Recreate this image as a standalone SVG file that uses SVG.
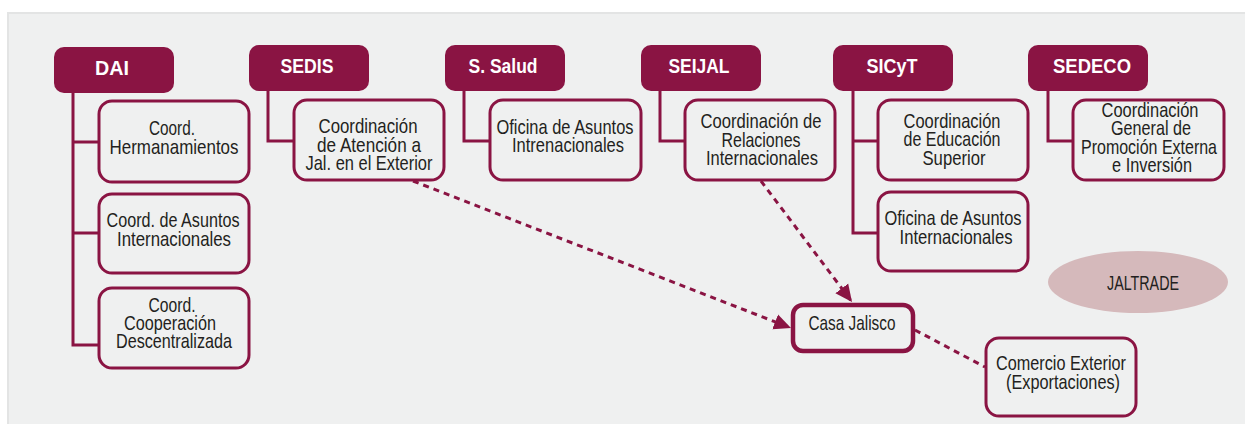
<svg xmlns="http://www.w3.org/2000/svg" width="1245" height="424" viewBox="0 0 1245 424">
<style>
.hdr{fill:#8A1443}
.hdrt{fill:#FFFFFF;font-family:"Liberation Sans",Arial,sans-serif;font-weight:bold;font-size:20px;text-anchor:middle}
.box{fill:#EFF0F0;stroke:#8A1443;stroke-width:3}
.t{fill:#231F20;font-family:"Liberation Sans Narrow","Liberation Sans",Arial,sans-serif;font-size:21px;text-anchor:middle}
.tree{fill:none;stroke:#8A1443;stroke-width:3}
.dash{fill:none;stroke:#8A1443;stroke-width:3;stroke-dasharray:6 5}
</style>
<defs>
<marker id="arr" markerUnits="userSpaceOnUse" markerWidth="18" markerHeight="18" viewBox="0 0 18 18" refX="17" refY="9" orient="auto">
<path d="M0,1 L17,9 L0,17 Z" fill="#8A1443"/>
</marker>
</defs>
<rect x="0" y="0" width="1245" height="424" fill="#FFFFFF"/>
<rect x="8" y="13" width="1250" height="420" fill="#EFF0F0" stroke="#E3E4E4" stroke-width="2"/>

<g id="connectors">
<path class="tree" d="M73,92 V345 H99 M73,142 H99 M73,233 H99"/>
<path class="tree" d="M268,90 V141 H294"/>
<path class="tree" d="M464,90 V141 H490"/>
<path class="tree" d="M660,90 V141 H685"/>
<path class="tree" d="M853,90 V233 H877 M853,141 H878"/>
<path class="tree" d="M1048,90 V141 H1073"/>
<line class="dash" x1="413" y1="181" x2="791" y2="328" marker-end="url(#arr)"/>
<line class="dash" x1="761" y1="181" x2="852" y2="302" marker-end="url(#arr)"/>
<line class="dash" x1="915" y1="330" x2="985" y2="367"/>
</g>

<g id="dai">
<rect class="hdr" x="54" y="47" width="120" height="46" rx="10"/>
<text class="hdrt" x="112" y="75" textLength="34" lengthAdjust="spacingAndGlyphs">DAI</text>
</g>
<g id="dai-herm">
<rect class="box" x="99" y="101" width="150" height="81" rx="13"/>
<text class="t" x="172" y="135" textLength="46" lengthAdjust="spacingAndGlyphs">Coord.</text>
<text class="t" x="174" y="154" textLength="129" lengthAdjust="spacingAndGlyphs">Hermanamientos</text>
</g>
<g id="dai-asuntos">
<rect class="box" x="99" y="194" width="150" height="79" rx="13"/>
<text class="t" x="173" y="227" textLength="133" lengthAdjust="spacingAndGlyphs">Coord. de Asuntos</text>
<text class="t" x="174" y="246" textLength="114" lengthAdjust="spacingAndGlyphs">Internacionales</text>
</g>
<g id="dai-coop">
<rect class="box" x="99" y="288" width="150" height="80" rx="13"/>
<text class="t" x="172" y="312" textLength="47" lengthAdjust="spacingAndGlyphs">Coord.</text>
<text class="t" x="170" y="330" textLength="92" lengthAdjust="spacingAndGlyphs">Cooperación</text>
<text class="t" x="174" y="348" textLength="116" lengthAdjust="spacingAndGlyphs">Descentralizada</text>
</g>

<g id="sedis">
<rect class="hdr" x="249" y="45" width="120" height="46" rx="10"/>
<text class="hdrt" x="307" y="73" textLength="53" lengthAdjust="spacingAndGlyphs">SEDIS</text>
</g>
<g id="sedis-coord">
<rect class="box" x="294" y="100" width="150" height="80" rx="13"/>
<text class="t" x="368" y="133" textLength="99" lengthAdjust="spacingAndGlyphs">Coordinación</text>
<text class="t" x="369" y="152" textLength="104" lengthAdjust="spacingAndGlyphs">de Atención a</text>
<text class="t" x="369" y="170" textLength="127" lengthAdjust="spacingAndGlyphs">Jal. en el Exterior</text>
</g>

<g id="ssalud">
<rect class="hdr" x="445" y="45" width="120" height="46" rx="10"/>
<text class="hdrt" x="503" y="73" textLength="69" lengthAdjust="spacingAndGlyphs">S. Salud</text>
</g>
<g id="ssalud-ofi">
<rect class="box" x="490" y="100" width="151" height="80" rx="13"/>
<text class="t" x="565" y="134" textLength="137" lengthAdjust="spacingAndGlyphs">Oficina de Asuntos</text>
<text class="t" x="568" y="152" textLength="112" lengthAdjust="spacingAndGlyphs">Intrenacionales</text>
</g>

<g id="seijal">
<rect class="hdr" x="641" y="45" width="120" height="46" rx="10"/>
<text class="hdrt" x="699" y="73" textLength="61" lengthAdjust="spacingAndGlyphs">SEIJAL</text>
</g>
<g id="seijal-coord">
<rect class="box" x="685" y="100" width="150" height="80" rx="13"/>
<text class="t" x="761" y="128" textLength="121" lengthAdjust="spacingAndGlyphs">Coordinación de</text>
<text class="t" x="761" y="147" textLength="79" lengthAdjust="spacingAndGlyphs">Relaciones</text>
<text class="t" x="762" y="165" textLength="112" lengthAdjust="spacingAndGlyphs">Internacionales</text>
</g>

<g id="sicyt">
<rect class="hdr" x="833" y="45" width="120" height="46" rx="10"/>
<text class="hdrt" x="892" y="73" textLength="51" lengthAdjust="spacingAndGlyphs">SICyT</text>
</g>
<g id="sicyt-edu">
<rect class="box" x="878" y="100" width="150" height="80" rx="13"/>
<text class="t" x="952" y="128" textLength="97" lengthAdjust="spacingAndGlyphs">Coordinación</text>
<text class="t" x="952" y="146" textLength="97" lengthAdjust="spacingAndGlyphs">de Educación</text>
<text class="t" x="954" y="165" textLength="63" lengthAdjust="spacingAndGlyphs">Superior</text>
</g>
<g id="sicyt-ofi">
<rect class="box" x="878" y="192" width="150" height="79" rx="13"/>
<text class="t" x="953" y="225" textLength="137" lengthAdjust="spacingAndGlyphs">Oficina de Asuntos</text>
<text class="t" x="956" y="244" textLength="113" lengthAdjust="spacingAndGlyphs">Internacionales</text>
</g>

<g id="sedeco">
<rect class="hdr" x="1028" y="45" width="120" height="46" rx="10"/>
<text class="hdrt" x="1092" y="73" textLength="78" lengthAdjust="spacingAndGlyphs">SEDECO</text>
</g>
<g id="sedeco-coord">
<rect class="box" x="1073" y="100" width="151" height="80" rx="13"/>
<text class="t" x="1150" y="117" textLength="97" lengthAdjust="spacingAndGlyphs">Coordinación</text>
<text class="t" x="1151" y="135" textLength="80" lengthAdjust="spacingAndGlyphs">General de</text>
<text class="t" x="1149" y="154" textLength="136" lengthAdjust="spacingAndGlyphs">Promoción Externa</text>
<text class="t" x="1152" y="172" textLength="80" lengthAdjust="spacingAndGlyphs">e Inversión</text>
</g>

<g id="casa-jalisco">
<rect x="793" y="305" width="120" height="46" rx="10" fill="#EFF0F0" stroke="#8A1443" stroke-width="4.5"/>
<text class="t" x="852" y="330" textLength="87" lengthAdjust="spacingAndGlyphs">Casa Jalisco</text>
</g>

<g id="comercio">
<rect class="box" x="986" y="338" width="150" height="78" rx="13"/>
<text class="t" x="1061" y="370" textLength="130" lengthAdjust="spacingAndGlyphs">Comercio Exterior</text>
<text class="t" x="1063" y="389" textLength="114" lengthAdjust="spacingAndGlyphs">(Exportaciones)</text>
</g>

<g id="jaltrade">
<ellipse cx="1138" cy="282" rx="90" ry="31" fill="#D5B9BB"/>
<text class="t" x="1143" y="290" textLength="72" lengthAdjust="spacingAndGlyphs">JALTRADE</text>
</g>
</svg>
